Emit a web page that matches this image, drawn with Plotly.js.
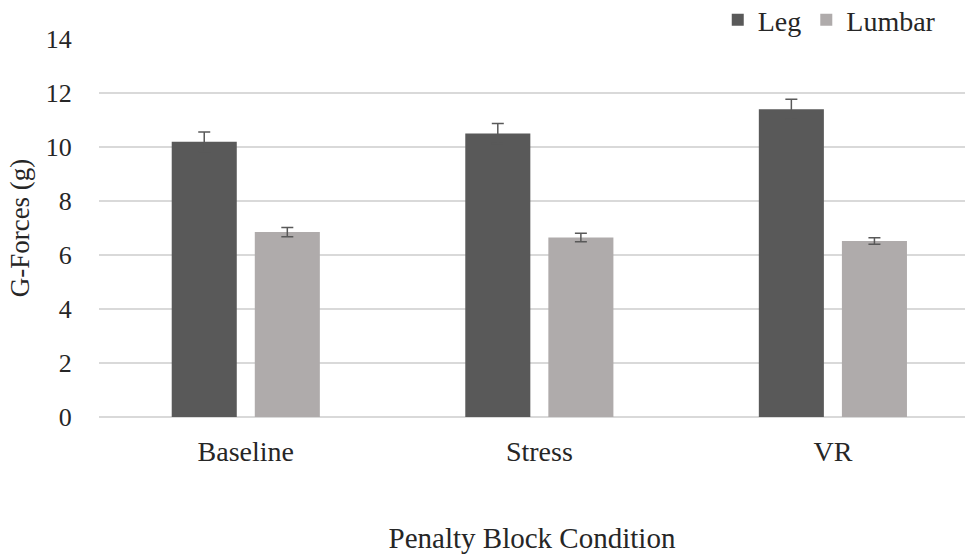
<!DOCTYPE html>
<html><head><meta charset="utf-8">
<script src="https://cdn.plot.ly/plotly-3.0.1.min.js"></script>
<style>html,body{margin:0;padding:0;background:#fff}</style>
</head><body><div id="chart" style="width:967px;height:556px"></div>
<script>
const categories = ["Baseline", "Stress", "VR"];
const legValues = [10.19, 10.5, 11.4];
const legErrors = [0.37, 0.37, 0.37];
const lumbarValues = [6.85, 6.65, 6.52];
const lumbarErrors = [0.17, 0.16, 0.12];
const yTicks = [0, 2, 4, 6, 8, 10, 12, 14];

const font = "Liberation Serif";
const traces = [
  {type:'bar', name:'Leg', x:categories, y:legValues,
   marker:{color:'#595959'},
   error_y:{type:'data', array:legErrors, visible:true, color:'#595959', thickness:1.5, width:6}},
  {type:'bar', name:'Lumbar', x:categories, y:lumbarValues,
   marker:{color:'#AFABAB'},
   error_y:{type:'data', array:lumbarErrors, visible:true, color:'#595959', thickness:1.5, width:6}}
];
const layout = {
  width:967, height:556,
  margin:{l:99, r:2, t:39, b:139, autoexpand:false},
  paper_bgcolor:'#fff', plot_bgcolor:'#fff',
  font:{family:font, color:'#262626', size:18},
  barmode:'group', bargap:0.434, bargroupgap:0.217,
  showlegend:true,
  legend:{orientation:'h', x:0.972, xanchor:'right', y:1.05, yanchor:'middle',
          font:{family:font, size:28, color:'#262626'}, traceorder:'normal',
          itemwidth:30},
  xaxis:{range:[-0.5, 2.45], showgrid:false, showline:false, zeroline:false,
         ticks:'outside', ticklen:9, tickcolor:'rgba(0,0,0,0)',
         tickfont:{family:font, size:28, color:'#262626'},
         title:{text:'Penalty Block Condition', font:{family:font, size:29, color:'#262626'}, standoff:62}},
  yaxis:{range:[0, 14], tickvals:yTicks, showgrid:true, gridcolor:'#D9D9D9', gridwidth:1.5,
         zeroline:true, zerolinecolor:'#D9D9D9', zerolinewidth:1.5, showline:false,
         ticks:'outside', ticklen:21, tickcolor:'rgba(0,0,0,0)',
         tickfont:{family:font, size:26, color:'#262626'},
         title:{text:'G-Forces (g)', font:{family:font, size:27, color:'#262626'}, standoff:8}}
};
Plotly.newPlot('chart', traces, layout, {displayModeBar:false, staticPlot:true});
</script></body></html>
